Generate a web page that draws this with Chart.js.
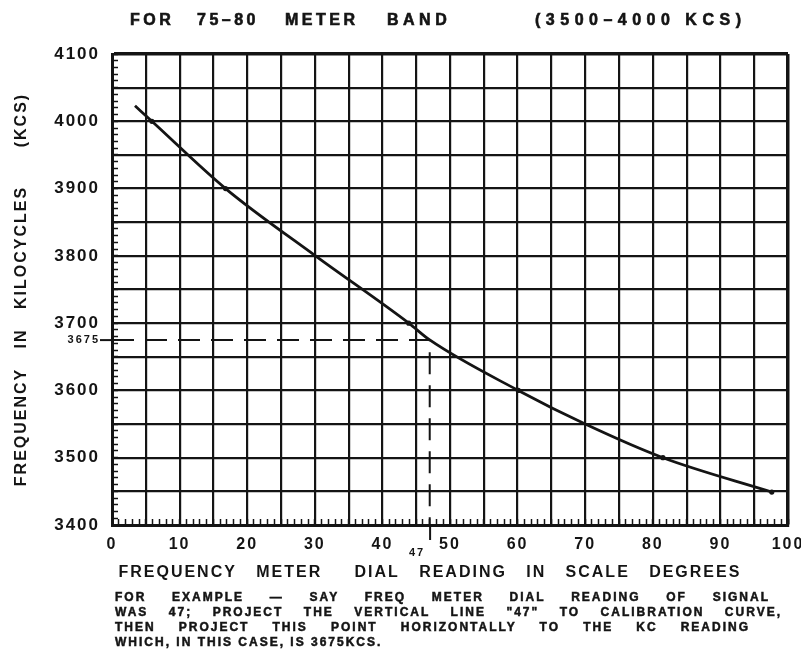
<!DOCTYPE html>
<html>
<head>
<meta charset="utf-8">
<title>75-80 meter band calibration</title>
<script src="https://cdn.jsdelivr.net/npm/chart.js@4.4.1/dist/chart.umd.min.js"></script>
<style>
    html, body { margin: 0; padding: 0; background: #fff; }
    #wrap { position: relative; width: 801px; height: 656px; overflow: hidden; }
    #myChart { position: absolute; left: 0; top: 0; }
    .txt {
        position: absolute;
        font-family: "Liberation Sans", Arial, sans-serif;
        font-weight: 700;
        color: #141414;
        white-space: nowrap;
        -webkit-text-stroke: 0.6px #141414;
    }
    .head { top: 12px; font-size: 16px; line-height: 16px; letter-spacing: 3.5px; }
    .notes { left: 115px; top: 590px; font-size: 12px; line-height: 15px; letter-spacing: 2px; -webkit-text-stroke: 0.5px #141414; }
    .notes div { text-align: justify; text-align-last: justify; }
</style>
</head>
<body>
<div id="wrap">
    <canvas id="myChart" width="801" height="656"></canvas>

    <div class="txt head" style="left:130px">FOR</div>
    <div class="txt head" style="left:197px">75–80</div>
    <div class="txt head" style="left:285px">METER</div>
    <div class="txt head" style="left:387px;letter-spacing:4.5px">BAND</div>
    <div class="txt head" style="left:535px;letter-spacing:5.5px">(3500–4000 KCS)</div>

    <div class="txt notes">
        <div style="width:655px">FOR EXAMPLE — SAY FREQ METER DIAL READING OF SIGNAL</div>
        <div style="width:667px">WAS 47; PROJECT THE VERTICAL LINE "47" TO CALIBRATION CURVE,</div>
        <div style="width:635px">THEN PROJECT THIS POINT HORIZONTALLY TO THE KC READING</div>
        <div style="text-align:left;text-align-last:left">WHICH, IN THIS CASE, IS 3675KCS.</div>
    </div>
</div>

<script>
// calibration curve (dial degrees -> kilocycles)
const dialDegrees = [3.4, 5.9, 16.8, 30.1, 43.9, 47, 60.1, 70.0, 81.5, 97.6];
const frequencyKcs = [4023, 4000, 3900, 3800, 3700, 3675, 3600, 3550, 3500, 3449];
// readings that carry a small dot on the curve
const dottedKcs = [4000, 3900, 3700, 3600, 3500, 3449];

// worked example
const exampleDial = 47;
const exampleKcs = 3675;

// tick labels
const dialLabels = [0, 10, 20, 30, 40, 50, 60, 70, 80, 90, 100];
const kcsLabels = [3400, 3500, 3600, 3700, 3800, 3900, 4000, 4100];

const ink = '#141414';
const clear = 'rgba(0,0,0,0)';
const family = '"Liberation Sans", Arial, sans-serif';
const bigFont = { family: family, size: 16, weight: 'bold', lineHeight: 1.2 };
const tickFont = { family: family, size: 17, weight: 'bold', lineHeight: 1.2 };
const smallFont = { family: family, size: 11, weight: 'bold', lineHeight: 1.1 };

const curve = dialDegrees.map((d, i) => ({ x: d, y: frequencyKcs[i] }));
const projection = [
    { x: 0, y: exampleKcs },
    { x: exampleDial, y: exampleKcs },
    { x: exampleDial, y: 3400 }
];

// canvas letter spacing, the lettering on the original is spread out
const spacing = {
    id: 'spacing',
    beforeUpdate(chart) { chart.ctx.letterSpacing = '2px'; },
    beforeDraw(chart) { chart.ctx.letterSpacing = '2px'; }
};

const isTick = (c, v) => c.tick && c.tick.value === v;

const ctx = document.getElementById('myChart').getContext('2d');
const myChart = new Chart(ctx, {
    type: 'scatter',
    data: {
        datasets: [{
            label: 'Calibration curve',
            data: curve,
            showLine: true,
            borderColor: ink,
            borderWidth: 2.8,
            cubicInterpolationMode: 'monotone',
            pointRadius: curve.map(p => dottedKcs.includes(p.y) ? 2.6 : 0),
            pointBackgroundColor: ink,
            pointBorderWidth: 0
        }, {
            label: 'Example',
            data: projection,
            showLine: true,
            borderColor: ink,
            borderWidth: 2,
            borderDash: [22, 11],
            pointRadius: 0
        }]
    },
    options: {
        responsive: false,
        animation: false,
        layout: { padding: { top: 54, right: 13, left: 0, bottom: 0 } },
        plugins: {
            legend: { display: false },
            tooltip: { enabled: false }
        },
        scales: {
            x: {
                type: 'linear',
                min: 0,
                max: 100,
                ticks: {
                    stepSize: 5,
                    autoSkip: false,
                    maxRotation: 0,
                    padding: -5,
                    color: ink,
                    font: c => isTick(c, exampleDial) ? smallFont : bigFont,
                    callback: v => v === exampleDial ? ['', '47     '] : (dialLabels.includes(v) ? String(v) : '')
                },
                grid: {
                    color: c => isTick(c, exampleDial) ? clear : ink,
                    lineWidth: c => isTick(c, 100) ? 3.5 : 2.2,
                    tickLength: 15,
                    tickWidth: 2,
                    tickColor: c => isTick(c, exampleDial) ? ink : clear
                },
                border: { color: ink, width: 3 },
                title: {
                    display: true,
                    text: ' FREQUENCY   METER     DIAL   READING   IN   SCALE   DEGREES',
                    align: 'start',
                    color: ink,
                    font: bigFont,
                    padding: { top: 0, bottom: 74 }
                },
                afterBuildTicks: s => {
                    s.ticks.push({ value: exampleDial });
                    s.ticks.sort((a, b) => a.value - b.value);
                },
                afterFit: s => {
                    s.height = 131;
                    s.paddingLeft = 0;
                    s.paddingRight = 0;
                }
            },
            y: {
                type: 'linear',
                min: 3400,
                max: 4100,
                ticks: {
                    stepSize: 50,
                    autoSkip: false,
                    padding: 0,
                    color: ink,
                    font: c => isTick(c, exampleKcs) ? smallFont : tickFont,
                    callback: v => v === exampleKcs ? String(v) : (kcsLabels.includes(v) ? String(v) : '')
                },
                grid: {
                    color: c => isTick(c, exampleKcs) ? clear : ink,
                    lineWidth: c => isTick(c, 4100) ? 3.5 : 2.2,
                    tickLength: 12,
                    tickWidth: 2,
                    tickColor: c => isTick(c, exampleKcs) ? ink : clear
                },
                border: { color: ink, width: 3 },
                title: {
                    display: true,
                    text: 'FREQUENCY   IN   KILOCYCLES      (KCS)',
                    color: ink,
                    font: bigFont,
                    padding: { top: 12, bottom: 0 }
                },
                afterBuildTicks: s => {
                    s.ticks.push({ value: exampleKcs });
                    s.ticks.sort((a, b) => a.value - b.value);
                },
                afterFit: s => {
                    s.width = 112;
                    s.paddingTop = 0;
                    s.paddingBottom = 0;
                }
            },
            // small division marks along the inside of the two axes
            x2: {
                type: 'linear',
                min: 0,
                max: 100,
                position: { y: 3400 },
                ticks: { display: false, stepSize: 1 },
                grid: { drawOnChartArea: false, tickLength: -6, tickWidth: 1.5, tickColor: ink },
                border: { display: false }
            },
            y2: {
                type: 'linear',
                min: 3400,
                max: 4100,
                position: { x: 0 },
                ticks: { display: false, stepSize: 10 },
                grid: { drawOnChartArea: false, tickLength: -6, tickWidth: 1.5, tickColor: ink },
                border: { display: false }
            }
        }
    },
    plugins: [spacing]
});
</script>
</body>
</html>
